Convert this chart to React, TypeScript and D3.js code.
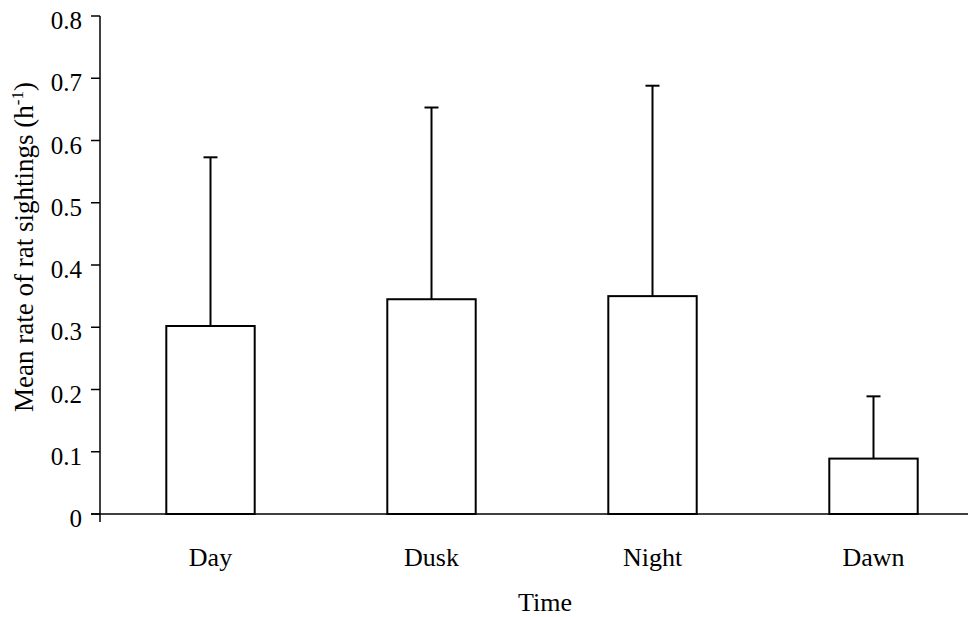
import React from "react";
import * as d3 from "d3";

const categories = ["Day", "Dusk", "Night", "Dawn"];
const means = [0.302, 0.345, 0.35, 0.089];
const upper = [0.573, 0.653, 0.688, 0.189];
const yTicks = [0, 0.1, 0.2, 0.3, 0.4, 0.5, 0.6, 0.7, 0.8];

const W = 969;
const H = 617;
const left = 100;
const top = 16;
const bottom = 514;
const FONT = "'Liberation Serif', 'DejaVu Serif', 'Times New Roman', serif";

export default function App() {
  const y = d3.scaleLinear().domain([0, 0.8]).range([bottom, top]);
  const x = d3
    .scaleBand<string>()
    .domain(categories)
    .range([left, left + 4 * 221])
    .paddingInner(0.6)
    .paddingOuter(0.3);
  const ts = { fontFamily: FONT, fontSize: 25 };
  const xs = { fontFamily: FONT, fontSize: 26 };
  return (
    <svg
      width={W}
      height={H}
      style={{ position: "absolute", left: 0, top: 0, background: "#fff" }}
    >
      {/* y axis */}
      <line x1={left} x2={left} y1={top} y2={bottom + 8} stroke="#000" strokeWidth={1.5} />
      {yTicks.map((t) => (
        <g key={t}>
          <line x1={left - 9} x2={left} y1={y(t)} y2={y(t)} stroke="#000" strokeWidth={1.5} />
          <text x={82} y={y(t) + 13} style={ts} textAnchor="end" fill="#000">
            {String(t)}
          </text>
        </g>
      ))}
      {/* bars */}
      {categories.map((c, i) => {
        const bx = x(c)!;
        const bw = x.bandwidth();
        const cx = bx + bw / 2;
        return (
          <g key={c}>
            <line x1={cx} x2={cx} y1={y(means[i])} y2={y(upper[i])} stroke="#000" strokeWidth={2} />
            <line x1={cx - 7} x2={cx + 7} y1={y(upper[i])} y2={y(upper[i])} stroke="#000" strokeWidth={2} />
            <rect x={bx} y={y(means[i])} width={bw} height={y(0) - y(means[i])} fill="#fff" stroke="#000" strokeWidth={2} />
            <text x={cx} y={566} style={xs} textAnchor="middle" fill="#000">
              {c}
            </text>
          </g>
        );
      })}
      {/* x axis */}
      <line x1={left - 9} x2={968} y1={bottom} y2={bottom} stroke="#000" strokeWidth={1.5} />
      <text x={545} y={611} style={xs} textAnchor="middle" fill="#000">
        Time
      </text>
      <text
        transform={`translate(33, 247) rotate(-90)`}
        style={{ fontFamily: FONT, fontSize: 27 }}
        textAnchor="middle"
        fill="#000"
      >
        Mean rate of rat sightings (h
        <tspan dy={-10} style={{ fontSize: 17 }}>-1</tspan>
        <tspan dy={10}>)</tspan>
      </text>
    </svg>
  );
}
